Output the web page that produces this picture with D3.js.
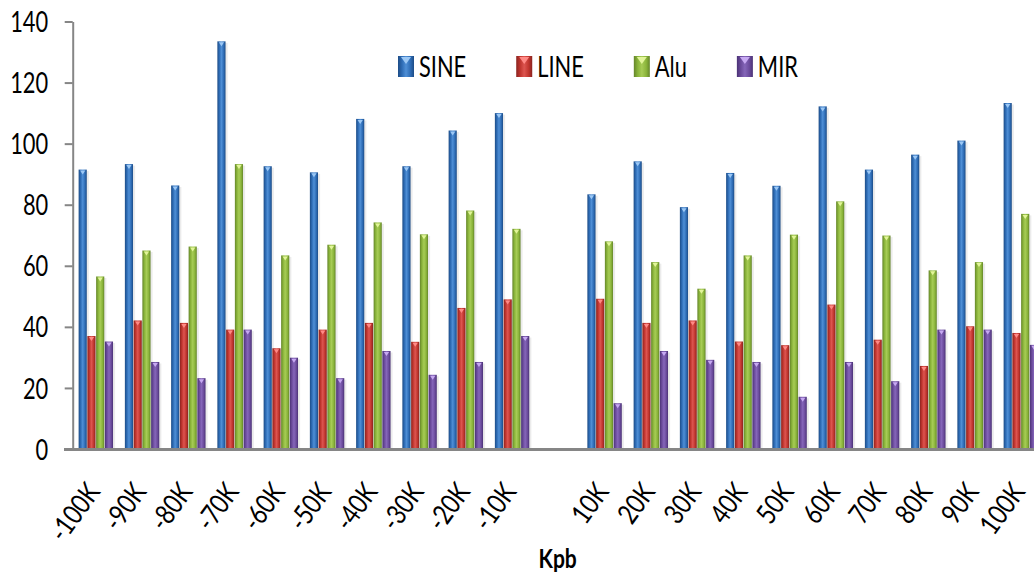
<!DOCTYPE html>
<html>
<head>
<meta charset="utf-8">
<script src="https://cdn.jsdelivr.net/npm/d3@7"></script>
<style>
  html, body { margin: 0; padding: 0; background: #ffffff; }
  svg { display: block; }
  text { font-family: Lato, "Open Sans", "Liberation Sans", sans-serif; fill: #000; }
</style>
</head>
<body>
<svg id="chart" width="1034" height="580"></svg>
<script>
// ---- data ----
const categories = ["-100K","-90K","-80K","-70K","-60K","-50K","-40K","-30K","-20K","-10K","",
                    "10K","20K","30K","40K","50K","60K","70K","80K","90K","100K"];
const seriesNames = ["SINE","LINE","Alu","MIR"];
const sineValues = [91.5,93.3,86.3,133.5,92.6,90.6,108.1,92.6,104.3,110,null,83.4,94.2,79.2,90.4,86.2,112.2,91.5,96.4,101,113.3];
const lineValues = [37,42.1,41.3,39.1,33,39.1,41.3,35.1,46.2,49,null,49.2,41.3,42.1,35.2,34,47.3,35.8,27.2,40.2,38];
const aluValues  = [56.5,65,66.3,93.3,63.4,66.9,74.2,70.3,78.1,72.1,null,68,61.2,52.5,63.4,70.2,81.1,69.9,58.5,61.2,77];
const mirValues  = [35.2,28.5,23.2,39.1,29.9,23.2,32.1,24.3,28.5,37,null,15,32.1,29.2,28.5,17.1,28.5,22.2,39.1,39.1,34.1];
const yTicks = [0,20,40,60,80,100,120,140];
const xTitle = "Kpb";

const seriesValues = [sineValues, lineValues, aluValues, mirValues];
const colors = [
  {base:"#2e6cb5", light:"#4f8fd6", dark:"#1d4c86", tip:"#9cc8f5"},
  {base:"#c0352e", light:"#dd5550", dark:"#8a2420", tip:"#ff8a86"},
  {base:"#8ab43a", light:"#a7cc56", dark:"#64852a", tip:"#e2f59a"},
  {base:"#6b4b9c", light:"#8566b9", dark:"#4a3275", tip:"#c7a9f2"}
];
const SX = 0.78; // horizontal squeeze of text as in the reference

const svg = d3.select("#chart");
const defs = svg.append("defs");
colors.forEach((c, i) => {
  const g = defs.append("linearGradient").attr("id", "grad" + i)
    .attr("x1", "0%").attr("x2", "100%").attr("y1", "0%").attr("y2", "0%");
  g.append("stop").attr("offset", "0%").attr("stop-color", c.dark);
  g.append("stop").attr("offset", "25%").attr("stop-color", c.base);
  g.append("stop").attr("offset", "50%").attr("stop-color", c.light);
  g.append("stop").attr("offset", "78%").attr("stop-color", c.base);
  g.append("stop").attr("offset", "100%").attr("stop-color", c.dark);
});

const plotLeft = 73, plotTop = 21.5, plotBottom = 449;
const step = 46.25;
const x = d3.scaleBand().domain(categories)
  .range([plotLeft, plotLeft + categories.length * step])
  .paddingInner(0.243).paddingOuter(0.1215);
const xs = d3.scaleBand().domain(seriesNames).range([0, x.bandwidth()]);
const y = d3.scaleLinear().domain([0, 140]).range([plotBottom, plotTop]);

// bars
const gBars = svg.append("g");
seriesNames.forEach((name, si) => {
  const data = categories.map((c, i) => ({c, v: seriesValues[si][i]})).filter(d => d.v != null);
  const g = gBars.append("g");
  g.selectAll("rect.sh").data(data).join("rect")
    .attr("x", d => x(d.c) + xs(name) + 1.5)
    .attr("y", d => y(d.v) + 1.5)
    .attr("width", xs.bandwidth())
    .attr("height", d => plotBottom - y(d.v) - 1.5)
    .attr("fill", "#000").attr("opacity", 0.08);
  g.selectAll("rect.bar").data(data).join("rect")
    .attr("x", d => x(d.c) + xs(name))
    .attr("y", d => y(d.v))
    .attr("width", xs.bandwidth() - 0.6)
    .attr("height", d => plotBottom - y(d.v))
    .attr("fill", `url(#grad${si})`);
  g.selectAll("path.tip").data(data).join("path")
    .attr("d", d => {
      const bx = x(d.c) + xs(name), w = xs.bandwidth(), by = y(d.v);
      const cx = bx + w / 2 - 0.3;
      return `M${cx - w * 0.3},${by + 1} L${cx + w * 0.3},${by + 1} L${cx},${by + 5} Z`;
    })
    .attr("fill", colors[si].tip);
});

// y axis
const yAxis = svg.append("g").attr("transform", `translate(${plotLeft - 0.3},0)`)
  .call(d3.axisLeft(y).tickValues(yTicks).tickSize(8).tickSizeOuter(0).tickFormat(d3.format("d")));
yAxis.select(".domain").attr("stroke", "#868686").attr("stroke-width", 2);
yAxis.selectAll(".tick line").attr("stroke", "#868686").attr("stroke-width", 2);
yAxis.selectAll(".tick text")
  .attr("x", 0).attr("dy", "0.36em")
  .attr("transform", `translate(-24.5,0) scale(${SX},1)`)
  .style("font-size", "28px").style("font-family", "Lato, 'Open Sans', sans-serif").attr("fill", "#000");

// x axis
const xAxis = svg.append("g").attr("transform", `translate(0,${plotBottom})`)
  .call(d3.axisBottom(x).tickSize(0).tickSizeOuter(0));
xAxis.select(".domain").remove();
svg.append("line")
  .attr("x1", plotLeft - 9).attr("x2", x.range()[1])
  .attr("y1", plotBottom + 0.5).attr("y2", plotBottom + 0.5)
  .attr("stroke", "#868686").attr("stroke-width", 3);
xAxis.selectAll(".tick text")
  .attr("x", 0).attr("y", 0).attr("dy", "0.36em")
  .attr("text-anchor", "end")
  .attr("transform", `translate(-3,37) rotate(-54) scale(0.82,1)`)
  .style("font-size", "28px").style("font-family", "Lato, 'Open Sans', sans-serif").attr("fill", "#000");

// x title
svg.append("text")
  .attr("transform", `translate(${(x.range()[0] + x.range()[1]) / 2 - 1},568) scale(${SX},1)`)
  .attr("text-anchor", "middle")
  .style("font-size", "27px").style("font-weight", "bold")
  .text(xTitle);

// legend
const legend = svg.append("g").attr("transform", "translate(398,56)");
let lx = 0;
seriesNames.forEach((name, i) => {
  const item = legend.append("g").attr("transform", `translate(${lx},0)`);
  item.append("rect").attr("x", 0).attr("y", 0).attr("width", 16).attr("height", 21)
    .attr("fill", `url(#grad${i})`);
  item.append("path").attr("d", "M3,1 L13,1 L8,8 Z").attr("fill", colors[i].tip);
  const t = item.append("text").attr("x", 0).attr("y", 0)
    .attr("transform", `translate(21,21) scale(${SX},1)`)
    .style("font-size", "28px").text(name);
  const w = t.node().getComputedTextLength() * SX;
  lx += 21 + w + 50;
});
</script>
</body>
</html>
